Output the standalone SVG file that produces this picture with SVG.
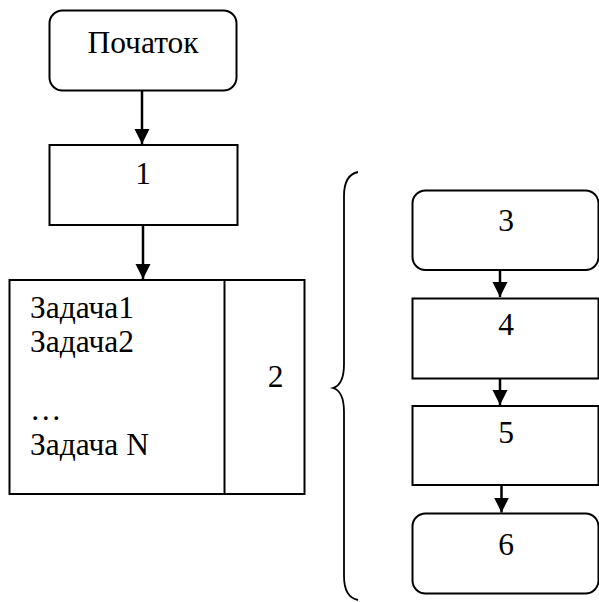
<svg xmlns="http://www.w3.org/2000/svg" width="599" height="602" viewBox="0 0 599 602">
<style>
.box{fill:#fff;stroke:#000;stroke-width:2}
.t{font-family:"Liberation Serif","Times New Roman",serif;font-size:31.5px;fill:#000}
.c{text-anchor:middle}
.con{stroke:#000;stroke-width:2.5;fill:none}
</style>
<defs>
<marker id="ah" markerUnits="userSpaceOnUse" markerWidth="16" markerHeight="16" refX="15" refY="7.5" orient="auto">
<path d="M0,0 L15,7.5 L0,15 Z" fill="#000"/>
</marker>
</defs>
<rect width="599" height="602" fill="#fff"/>
<g id="start"><rect class="box" x="49.5" y="10.5" width="187" height="80" rx="13"/><text class="t c" x="143" y="52.5">Початок</text></g>
<g id="n1"><rect class="box" x="49.5" y="145" width="188" height="80"/><text class="t c" x="143" y="184">1</text></g>
<g id="n2"><rect class="box" x="9.5" y="280" width="295" height="214"/><line x1="224.5" y1="280" x2="224.5" y2="494" stroke="#000" stroke-width="2"/>
<text class="t" x="30" y="318">Задача1</text><text class="t" x="30" y="352">Задача2</text><text class="t" x="30" y="420">…</text><text class="t" x="30" y="455">Задача N</text><text class="t c" x="275.5" y="387">2</text></g>
<g id="brace"><path d="M358,172 C348,174 344,182 344,196 L344,364 C344,378 340,386 333,388 C340,390 344,398 344,412 L344,576 C344,590 348,598 358,600" fill="none" stroke="#000" stroke-width="1.8"/></g>
<g id="n3"><rect class="box" x="412.5" y="190.5" width="186" height="79.5" rx="13"/><text class="t c" x="506" y="231">3</text></g>
<g id="n4"><rect class="box" x="412.5" y="298.5" width="186" height="80"/><text class="t c" x="506" y="335">4</text></g>
<g id="n5"><rect class="box" x="412.5" y="406" width="186" height="79"/><text class="t c" x="506" y="443">5</text></g>
<g id="n6"><rect class="box" x="412.5" y="513.5" width="186" height="80" rx="13"/><text class="t c" x="506" y="555">6</text></g>
<g id="connectors">
<line class="con" x1="142" y1="91" x2="142" y2="144" marker-end="url(#ah)"/>
<line class="con" x1="143" y1="225" x2="143" y2="279" marker-end="url(#ah)"/>
<line class="con" x1="500" y1="270" x2="500" y2="297" marker-end="url(#ah)"/>
<line class="con" x1="500" y1="379" x2="500" y2="405" marker-end="url(#ah)"/>
<line class="con" x1="501.5" y1="485" x2="501.5" y2="512.5" marker-end="url(#ah)"/>
</g>
</svg>
